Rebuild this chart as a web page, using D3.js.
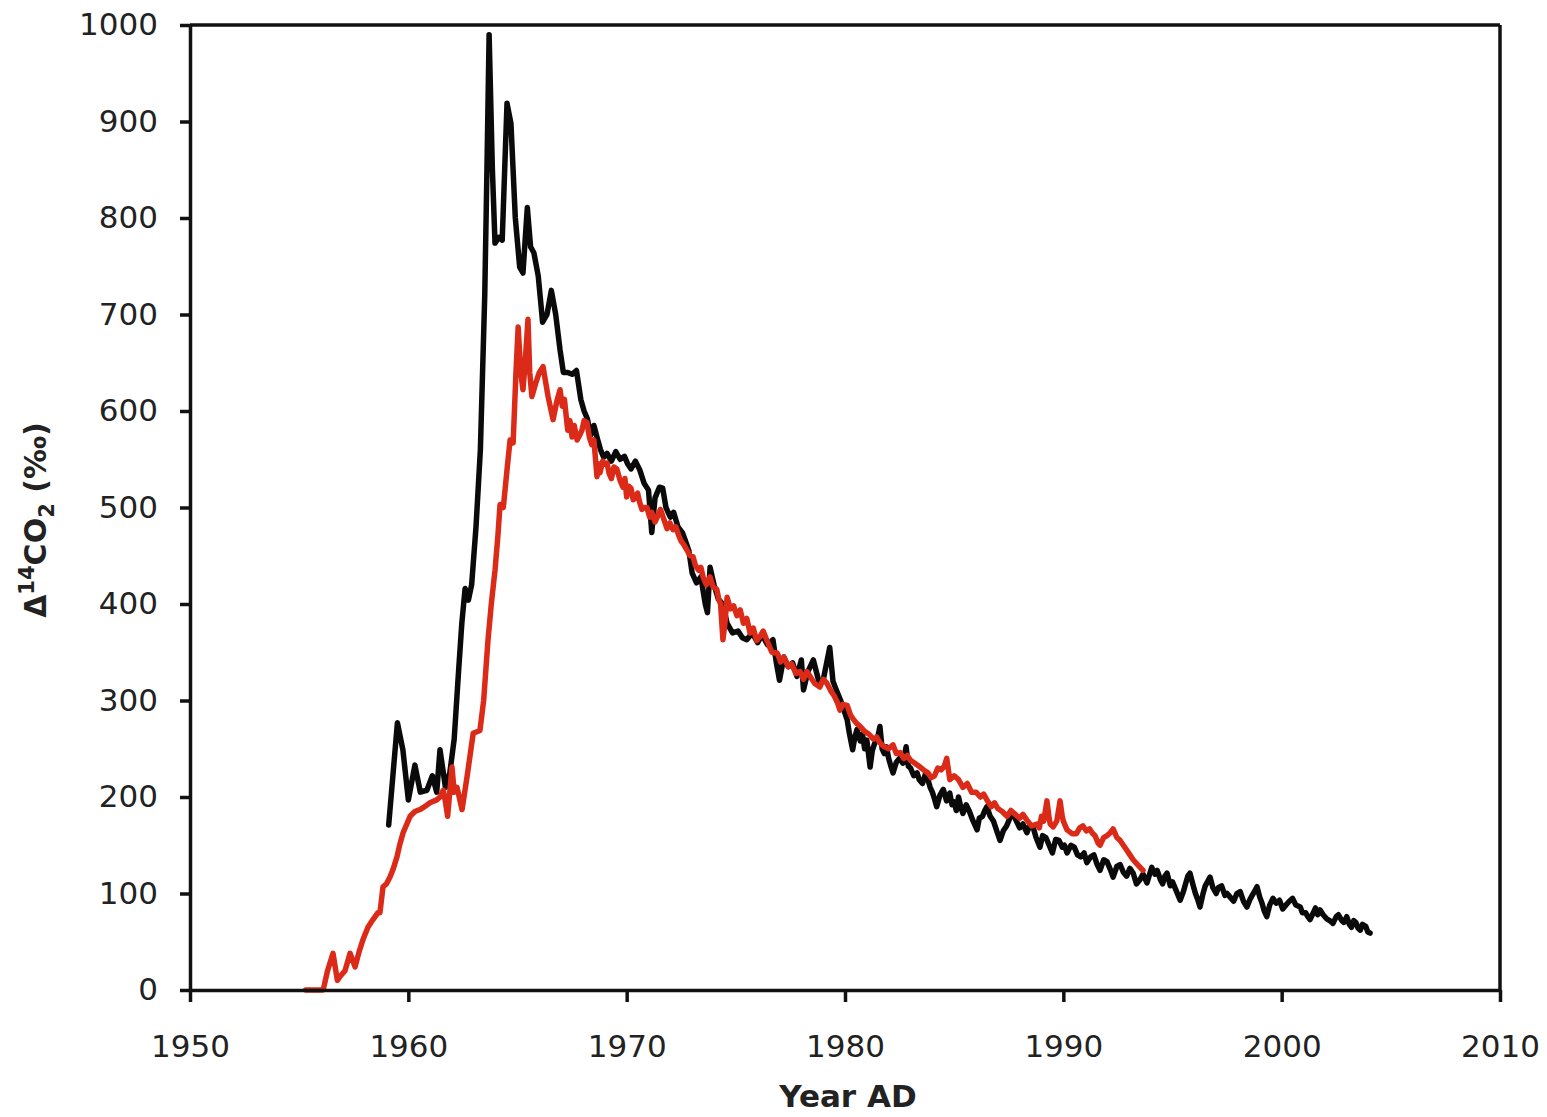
<!DOCTYPE html>
<html>
<head>
<meta charset="utf-8">
<script src="https://cdn.jsdelivr.net/npm/d3@7"></script>
<style>
  html, body { margin: 0; padding: 0; background: #fff; }
  svg { display: block; }
  text { font-family: "DejaVu Sans", Verdana, sans-serif; fill: #222; }
</style>
</head>
<body>
<svg id="chart" width="1547" height="1117"></svg>
<script>
// ---- Data ----
const xTicks = [1950, 1960, 1970, 1980, 1990, 2000, 2010];
const yTicks = [0, 100, 200, 300, 400, 500, 600, 700, 800, 900, 1000];

// Black series (atmospheric record)
const blackYears = [1959.1,1959.5,1959.75,1960.0,1960.3,1960.55,1960.85,1961.1,1961.3,1961.45,1961.7,1961.9,1962.1,1962.3,1962.45,1962.6,1962.75,1962.9,1963.1,1963.3,1963.5,1963.6,1963.7,1963.85,1963.97,1964.15,1964.3,1964.52,1964.7,1964.9,1965.1,1965.25,1965.45,1965.6,1965.75,1965.95,1966.15,1966.35,1966.55,1966.75,1966.95,1967.1,1967.3,1967.5,1967.7,1967.9,1968.05,1968.2,1968.35,1968.5,1968.65,1968.8,1968.95,1969.1,1969.3,1969.5,1969.7,1969.9,1970.05,1970.2,1970.4,1970.6,1970.8,1971.0,1971.15,1971.3,1971.5,1971.65,1971.8,1972.0,1972.15,1972.35,1972.55,1972.7,1972.85,1973.0,1973.2,1973.4,1973.6,1973.7,1973.82,1974.0,1974.2,1974.4,1974.6,1974.85,1975.1,1975.3,1975.5,1975.75,1976.0,1976.2,1976.45,1976.7,1976.85,1977.0,1977.2,1977.4,1977.6,1977.8,1978.0,1978.1,1978.3,1978.55,1978.8,1979.0,1979.3,1979.45,1979.6,
  1979.8,1979.95,1980.1,1980.2,1980.35,1980.45,1980.55,1980.7,1980.8,1980.9,1981.0,1981.15,1981.25,1981.35,1981.5,1981.6,1981.7,1981.8,1981.9,1982.0,1982.1,1982.2,1982.35,1982.5,1982.65,1982.8,1982.9,1983.0,1983.15,1983.3,1983.4,1983.55,1983.7,1983.8,1983.9,1984.0,1984.1,1984.2,1984.35,1984.5,1984.65,1984.8,1984.9,1985.0,1985.1,1985.2,1985.3,1985.4,1985.55,1985.7,1985.85,1986.05,1986.15,1986.3,1986.4,1986.5,1986.65,1986.8,1986.95,1987.1,1987.25,1987.4,1987.55,1987.7,1987.85,1988.0,1988.15,1988.33,1988.45,1988.6,1988.75,1988.93,1989.05,1989.2,1989.35,1989.5,1989.65,1989.8,1989.95,1990.05,1990.17,1990.35,1990.5,1990.65,1990.8,1990.95,1991.08,1991.25,1991.4,1991.55,1991.68,1991.85,1992.0,1992.15,1992.28,1992.45,1992.6,1992.75,1992.9,1993.05,1993.2,1993.35,1993.5,1993.65,1993.83,1993.95,1994.05,1994.2,1994.3,1994.45,1994.55,1994.65,1994.75,1994.9,1995.0,1995.15,1995.35,1995.5,1995.6,1995.7,1995.8,1995.95,1996.05,1996.15,1996.26,1996.4,1996.5,1996.6,1996.72,1996.85,1997.0,1997.1,1997.25,1997.4,1997.5,1997.65,1997.8,1997.95,1998.1,1998.25,1998.41,1998.55,1998.65,1998.75,1998.87,1999.0,1999.1,1999.2,1999.32,1999.45,1999.6,1999.75,1999.9,2000.05,2000.2,2000.35,2000.5,2000.65,2000.85,2000.95,2001.1,2001.2,2001.3,2001.45,2001.55,2001.65,2001.76,2001.9,2002.05,2002.2,2002.35,2002.5,2002.6,2002.75,2002.85,2002.98,2003.1,2003.2,2003.3,2003.4,2003.5,2003.6,2003.7,2003.85,2003.95,2004.05];
const blackValues = [171,277,249,197,233,205,207,222,205,249,210,225,260,330,380,416,404,420,480,560,720,850,990,850,774,780,777,919,898,800,749,743,811,770,764,740,692,700,725,700,663,640,640,638,642,612,600,592,575,585,572,560,552,556,548,558,550,553,545,540,548,539,525,518,474,510,521,520,500,490,495,480,474,465,455,432,422,428,400,391,438,420,405,400,380,370,372,365,363,370,360,368,358,363,340,321,345,335,339,325,342,311,330,342,320,321,355,320,311,
  300,290,280,266,249,262,270,258,265,250,259,231,248,255,262,273,250,245,252,240,232,225,236,240,235,252,232,230,222,225,218,214,225,218,210,205,198,190,202,208,196,204,192,195,186,200,190,183,192,185,176,166,178,180,186,190,180,175,165,155,165,170,178,183,175,168,172,163,170,170,158,148,160,158,150,142,156,155,148,150,142,150,148,140,138,142,132,138,140,130,124,135,133,125,117,128,130,122,118,126,121,110,114,120,111,120,127,120,124,114,110,118,121,108,112,104,93,102,110,118,121,108,100,94,86,100,108,112,117,106,100,106,108,98,100,96,92,100,102,92,86,94,98,102,107,96,90,82,76,88,95,90,93,84,88,92,95,88,86,80,80,76,73,80,85,78,83,78,74,72,69,76,78,72,70,76,68,65,72,70,64,62,68,66,60,59];

// Red series
const redYears = [1955.3,1955.8,1956.1,1956.3,1956.55,1956.75,1956.87,1957.1,1957.33,1957.56,1957.75,1957.92,1958.15,1958.38,1958.6,1958.7,1958.84,1959.0,1959.16,1959.3,1959.48,1959.6,1959.76,1960.08,1960.3,1960.53,1960.75,1960.99,1961.3,1961.45,1961.6,1961.7,1961.8,1962.0,1962.1,1962.23,1962.46,1962.69,1962.97,1963.28,1963.45,1963.65,1963.8,1963.97,1964.1,1964.2,1964.35,1964.52,1964.66,1964.8,1964.93,1965.03,1965.15,1965.25,1965.35,1965.48,1965.56,1965.66,1965.85,1966.0,1966.17,1966.4,1966.63,1966.8,
  1966.95,1967.05,1967.15,1967.3,1967.4,1967.5,1967.6,1967.73,1967.85,1967.95,1968.05,1968.18,1968.3,1968.4,1968.5,1968.64,1968.72,1968.78,1968.9,1969.0,1969.1,1969.2,1969.3,1969.42,1969.55,1969.7,1969.83,1969.92,1970.0,1970.1,1970.2,1970.3,1970.4,1970.5,1970.6,1970.7,1970.8,1970.93,1971.05,1971.15,1971.3,1971.4,1971.55,1971.7,1971.85,1971.98,1972.12,1972.25,1972.4,1972.5,1972.6,1972.76,1972.9,1973.04,1973.15,1973.3,1973.4,1973.5,1973.65,1973.82,1973.95,1974.13,1974.22,1974.3,1974.41,1974.5,1974.6,1974.75,1974.9,1975.05,1975.2,1975.35,1975.5,1975.65,1975.8,1975.95,1976.1,1976.25,1976.5,1976.65,1976.9,1977.05,1977.2,1977.4,1977.55,1977.75,1977.94,1978.1,1978.25,1978.4,1978.6,1978.85,1979.0,1979.17,1979.35,1979.5,1979.65,1979.77,1979.9,1980.1,1980.25,1980.4,1980.55,1980.7,1980.9,1981.1,1981.3,1981.45,1981.6,1981.8,1982.0,1982.2,1982.35,1982.52,1982.7,1982.85,1983.0,1983.2,1983.44,1983.6,1983.8,1983.95,1984.1,1984.25,1984.4,1984.55,1984.66,1984.8,1985.0,1985.2,1985.4,1985.6,1985.8,1986.0,1986.2,1986.35,1986.5,1986.7,1986.85,1987.0,1987.2,1987.42,1987.6,1987.8,1988.0,1988.15,1988.33,1988.55,1988.8,1988.9,1989.0,1989.1,1989.25,1989.35,1989.4,1989.53,1989.7,1989.85,1989.95,1990.0,1990.17,1990.4,1990.6,1990.75,1990.9,1991.05,1991.2,1991.35,1991.45,1991.6,1991.68,1991.85,1992.0,1992.15,1992.28,1992.45,1992.6,1992.75,1992.9,1993.05,1993.2,1993.4,1993.65];
const redValues = [0,0,0,20,38,10,14,20,38,24,40,52,65,73,80,80,107,110,117,125,138,150,163,180,185,187,190,194,197,200,207,195,180,231,205,210,187,221,266,269,300,363,400,435,470,503,500,539,570,567,640,687,640,622,650,695,640,615,630,640,646,615,591,610,
  622,605,612,580,590,573,585,570,575,580,590,588,572,565,570,532,545,536,548,545,546,535,530,542,540,528,521,530,511,522,520,508,510,515,505,498,500,500,490,495,485,490,498,488,478,484,477,480,470,465,462,456,450,449,440,435,438,428,420,428,418,415,405,400,363,380,407,395,398,388,394,380,385,370,375,362,366,372,358,350,349,340,345,335,338,328,330,322,330,325,318,314,322,318,310,305,298,290,296,295,285,280,276,273,268,265,260,262,256,252,250,254,245,246,240,243,238,235,231,228,225,220,222,230,228,232,240,218,222,218,210,214,205,205,200,203,197,190,194,188,185,180,186,182,178,182,176,170,172,168,180,175,196,178,172,169,175,196,180,175,166,162,162,168,170,165,167,162,160,152,150,158,160,163,167,158,155,150,145,140,135,130,124];

// ---- Drawing ----
const svg = d3.select("#chart");
const x = d3.scaleLinear().domain([1950, 2010]).range([190, 1500]);
const y = d3.scaleLinear().domain([0, 1000]).range([990, 25]);

// frame (top and right)
svg.append("line").attr("x1", x(1950)).attr("x2", x(2010)).attr("y1", y(1000)).attr("y2", y(1000))
  .attr("stroke", "#111").attr("stroke-width", 3.5);
svg.append("line").attr("x1", x(2010)).attr("x2", x(2010)).attr("y1", y(1000)).attr("y2", y(0))
  .attr("stroke", "#111").attr("stroke-width", 3.5);

const line = d3.line().x(d => x(d[0])).y(d => y(d[1]));
const blackData = blackYears.map((yr, i) => [yr, blackValues[i]]);
const redData = redYears.map((yr, i) => [yr, redValues[i]]);

svg.append("path").datum(blackData).attr("d", line)
  .attr("fill", "none").attr("stroke", "#0a0a0a").attr("stroke-width", 5.5)
  .attr("stroke-linejoin", "round").attr("stroke-linecap", "round");
svg.append("path").datum(redData).attr("d", line)
  .attr("fill", "none").attr("stroke", "#dc2a18").attr("stroke-width", 5.5)
  .attr("stroke-linejoin", "round").attr("stroke-linecap", "round");

// axes
const yAxis = svg.append("g").attr("transform", `translate(${x(1950)},0)`)
  .call(d3.axisLeft(y).tickValues(yTicks).tickSize(10).tickSizeOuter(0).tickPadding(22).tickFormat(d3.format("d")));
const xAxis = svg.append("g").attr("transform", `translate(0,${y(0)})`)
  .call(d3.axisBottom(x).tickValues(xTicks).tickSize(12).tickSizeOuter(0).tickPadding(33).tickFormat(d3.format("d")));

[yAxis, xAxis].forEach(g => {
  g.select(".domain").attr("stroke", "#111").attr("stroke-width", 3.5);
  g.selectAll(".tick line").attr("stroke", "#111").attr("stroke-width", 3.5);
  g.selectAll(".tick text").attr("font-family", "DejaVu Sans, Verdana, sans-serif")
    .attr("font-size", 31).attr("fill", "#222");
});

// axis titles
svg.append("text").attr("x", 848).attr("y", 1107).attr("text-anchor", "middle")
  .attr("font-size", 31).attr("font-weight", "bold").text("Year AD");

const yl = svg.append("text").attr("transform", "translate(46,520) rotate(-90)")
  .attr("text-anchor", "middle").attr("font-size", 30).attr("font-weight", "bold");
yl.append("tspan").text("Δ");
yl.append("tspan").attr("font-size", 21).attr("dy", -12).text("14");
yl.append("tspan").attr("dy", 12).text("CO");
yl.append("tspan").attr("font-size", 21).attr("dy", 8).text("2");
yl.append("tspan").attr("dy", -8).text(" (‰)");
</script>
</body>
</html>
